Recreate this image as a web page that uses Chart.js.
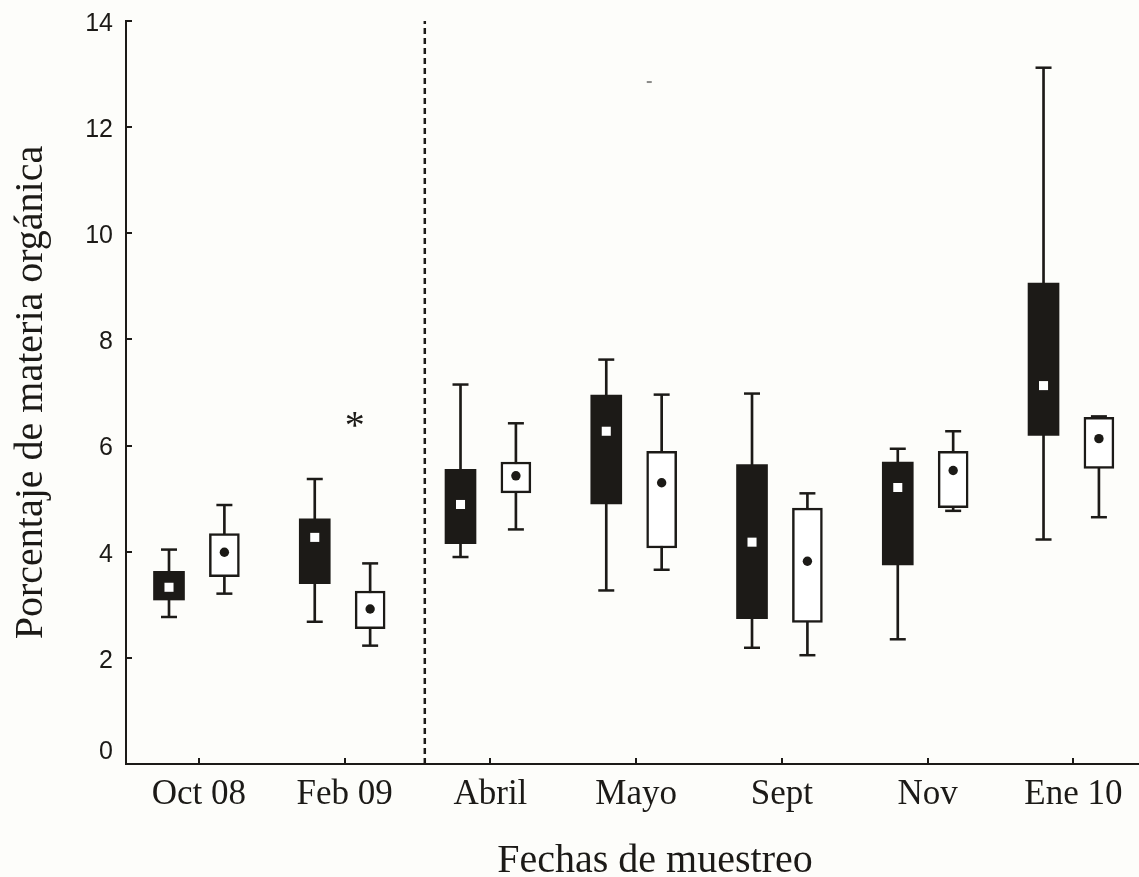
<!DOCTYPE html>
<html lang="es">
<head>
<meta charset="utf-8">
<title>Porcentaje de materia orgánica</title>
<script src="https://cdn.jsdelivr.net/npm/chart.js@4.4.1/dist/chart.umd.min.js"></script>
<style>
  html, body { margin: 0; padding: 0; background: #fdfdfa; }
  #grafico { display: block; }
</style>
</head>
<body>
<canvas id="grafico" width="1139" height="877"></canvas>
<script>
// fechas de muestreo
const categorias = ['Oct 08', 'Feb 09', 'Abril', 'Mayo', 'Sept', 'Nov', 'Ene 10'];

// serie de cajas rellenas (mediana = cuadro blanco)
const minOscura = [2.77, 2.68, 3.90, 3.27, 2.19, 2.35, 4.23];
const q1Oscura  = [3.09, 3.40, 4.15, 4.90, 2.74, 3.75, 6.19];
const medOscura = [3.33, 4.27, 4.89, 6.27, 4.18, 5.21, 7.13];
const q3Oscura  = [3.63, 4.62, 5.55, 6.95, 5.64, 5.69, 9.06];
const maxOscura = [4.04, 5.37, 7.15, 7.62, 6.98, 5.94, 13.12];

// serie de cajas blancas (mediana = punto negro)
const minClara = [3.21, 2.23, 4.42, 3.66, 2.05, 4.77, 4.65];
const q1Clara  = [3.53, 2.55, 5.11, 4.07, 2.67, 4.83, 5.57];
const medClara = [3.99, 2.92, 5.43, 5.30, 3.82, 5.53, 6.13];
const q3Clara  = [4.34, 3.26, 5.69, 5.89, 4.82, 5.89, 6.53];
const maxClara = [4.88, 3.78, 6.42, 6.96, 5.10, 6.27, 6.55];

const ticksY = [0, 2, 4, 6, 8, 10, 12, 14];

// linea que separa los dos periodos de muestreo
const separacion = 1.55;
// diferencia significativa marcada en Feb 09
const asterisco = { x: 1.07, y: 6.51 };
// marca suelta cerca de Mayo
const marcaSuelta = { x: 3.09, y: 12.85 };

const tinta = '#1c1a17';
const desplOscura = -0.205;
const desplClara = 0.175;

function puntos(valores, despl) {
  return valores.map((v, i) => ({ x: i + despl, y: v }));
}
function rangos(bajo, alto, despl) {
  return bajo.map((v, i) => ({ x: i + despl, y: [v, alto[i]] }));
}

const datasets = [
  // bigotes
  { type: 'bar', data: rangos(minOscura, maxOscura, desplOscura), backgroundColor: tinta, barThickness: 2, grouped: false, order: 5 },
  { type: 'bar', data: rangos(minClara, maxClara, desplClara), backgroundColor: tinta, barThickness: 2, grouped: false, order: 5 },
  // cajas
  { type: 'bar', data: rangos(q1Oscura, q3Oscura, desplOscura), backgroundColor: tinta, borderWidth: 0, barThickness: 31, grouped: false, order: 4 },
  { type: 'bar', data: rangos(q1Clara, q3Clara, desplClara), backgroundColor: '#ffffff', borderColor: tinta, borderWidth: 2.5, borderSkipped: false, barThickness: 30, grouped: false, order: 4 },
  // topes de los bigotes
  { type: 'scatter', data: [...puntos(minOscura, desplOscura), ...puntos(maxOscura, desplOscura), ...puntos(minClara, desplClara), ...puntos(maxClara, desplClara)],
    pointStyle: 'line', radius: 8, borderColor: tinta, borderWidth: 2.5, order: 3 },
  // medianas
  { type: 'scatter', data: puntos(medOscura, desplOscura), pointStyle: 'rect', radius: 6.4, backgroundColor: '#ffffff', borderWidth: 0, order: 1 },
  { type: 'scatter', data: puntos(medClara, desplClara), pointStyle: 'circle', radius: 4.7, backgroundColor: tinta, borderWidth: 0, order: 1 },
  // separador punteado
  { type: 'line', data: [{ x: separacion, y: 0 }, { x: separacion, y: 14 }], borderColor: tinta, borderWidth: 2.5, borderDash: [6, 4], pointRadius: 0, order: 6 },
  { type: 'scatter', data: [marcaSuelta], pointStyle: 'line', radius: 2.5, borderColor: '#8a8a88', borderWidth: 2, order: 2 }
];

// marcas de graduacion hacia dentro, asterisco y titulos de los ejes
const decoracion = {
  id: 'decoracion',
  afterDraw(chart) {
    const { ctx, chartArea, scales: { x, y } } = chart;
    ctx.save();
    ctx.strokeStyle = tinta;
    ctx.lineWidth = 2;
    ticksY.forEach(v => {
      const py = Math.round(y.getPixelForValue(v));
      ctx.beginPath();
      ctx.moveTo(chartArea.left, py);
      ctx.lineTo(chartArea.left + 6, py);
      ctx.stroke();
    });
    categorias.forEach((c, i) => {
      const px = Math.round(x.getPixelForValue(i));
      ctx.beginPath();
      ctx.moveTo(px, chartArea.bottom);
      ctx.lineTo(px, chartArea.bottom - 6);
      ctx.stroke();
    });

    ctx.fillStyle = tinta;
    ctx.textAlign = 'center';
    ctx.textBaseline = 'alphabetic';
    ctx.font = '40px "Liberation Serif"';
    ctx.fillText('*', x.getPixelForValue(asterisco.x), y.getPixelForValue(asterisco.y) + 19);

    ctx.fillText('Fechas de muestreo', 655, 872);

    ctx.translate(42, (chartArea.top + chartArea.bottom) / 2);
    ctx.rotate(-Math.PI / 2);
    ctx.fillText('Porcentaje de materia orgánica', 0, 0);
    ctx.restore();
  }
};

new Chart(document.getElementById('grafico'), {
  type: 'bar',
  data: { datasets },
  options: {
    responsive: false,
    animation: false,
    events: [],
    layout: { autoPadding: false, padding: { top: 21, right: 0, bottom: 0, left: 0 } },
    plugins: { legend: { display: false }, tooltip: { enabled: false } },
    scales: {
      x: {
        type: 'linear',
        offset: false,
        min: -0.5,
        max: 6.45,
        afterFit(s) { s.height = 113; s.paddingRight = 0; s.paddingLeft = 0; },
        afterBuildTicks(s) { s.ticks = categorias.map((c, i) => ({ value: i })); },
        grid: { display: false, drawTicks: false },
        border: { display: true, color: tinta, width: 2 },
        ticks: {
          autoSkip: false,
          maxRotation: 0,
          padding: 10,
          color: tinta,
          font: { family: '"Liberation Serif"', size: 35 },
          callback: v => categorias[v] ?? ''
        }
      },
      y: {
        min: 0,
        max: 14,
        afterFit(s) { s.width = 126; s.paddingTop = 0; s.paddingBottom = 0; },
        afterBuildTicks(s) { s.ticks = ticksY.map(v => ({ value: v })); },
        grid: { display: false, drawTicks: false },
        border: { display: true, color: tinta, width: 2 },
        ticks: {
          padding: 13,
          labelOffset: 3,
          color: tinta,
          font: { family: '"Liberation Sans"', size: 25, lineHeight: 1.2 },
          // el cero se sube para no tocar el eje x
          callback: v => v === 0 ? ['0', ''] : String(v)
        }
      }
    }
  },
  plugins: [decoracion]
});
</script>
</body>
</html>
